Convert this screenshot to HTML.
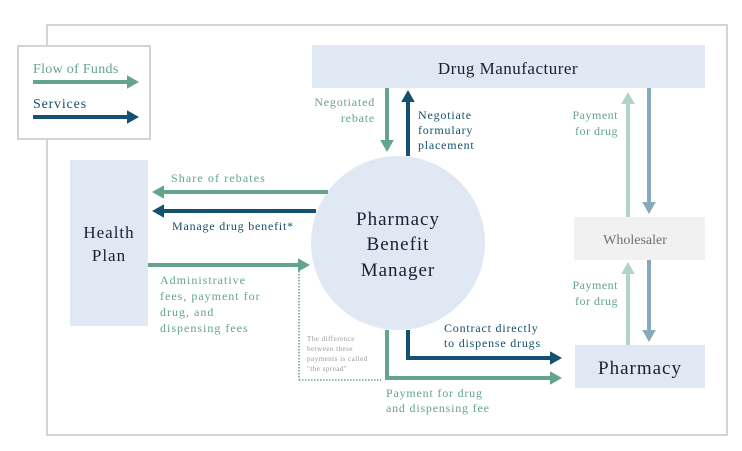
<!DOCTYPE html>
<html><head><meta charset="utf-8"><style>
body{margin:0;background:#fff;}
svg{display:block;font-family:"Liberation Serif",serif;}
</style></head><body>
<svg width="742" height="451" viewBox="0 0 742 451">
<defs>
<marker id="g" markerWidth="3" markerHeight="3.4" refX="1" refY="1.7" orient="auto" markerUnits="strokeWidth"><path d="M0,0 L3,1.7 L0,3.4 z" fill="#64a48c"/></marker>
<marker id="b" markerWidth="3" markerHeight="3.4" refX="1" refY="1.7" orient="auto" markerUnits="strokeWidth"><path d="M0,0 L3,1.7 L0,3.4 z" fill="#14506f"/></marker>
<marker id="lg" markerWidth="3" markerHeight="3.4" refX="1" refY="1.7" orient="auto" markerUnits="strokeWidth"><path d="M0,0 L3,1.7 L0,3.4 z" fill="#b0d4c6"/></marker>
<marker id="gb" markerWidth="3" markerHeight="3.4" refX="1" refY="1.7" orient="auto" markerUnits="strokeWidth"><path d="M0,0 L3,1.7 L0,3.4 z" fill="#88a8bc"/></marker>
</defs>
<rect x="47" y="25" width="680" height="410" fill="none" stroke="#d4d4d4" stroke-width="2"/>
<rect x="18" y="46" width="132" height="93" fill="#fff" stroke="#d4d4d4" stroke-width="2"/>
<text x="33" y="73" font-size="14" fill="#64a48c" letter-spacing="0.3">Flow of Funds</text>
<line x1="33" y1="82" x2="131" y2="82" stroke="#64a48c" stroke-width="4" marker-end="url(#g)"/>
<text x="33" y="108" font-size="14" fill="#14506f" letter-spacing="0.8">Services</text>
<line x1="33" y1="117" x2="131" y2="117" stroke="#14506f" stroke-width="4" marker-end="url(#b)"/>

<rect x="312" y="45" width="393" height="43" fill="#dfe8f3"/>
<text x="508" y="74" font-size="17" fill="#1a2030" text-anchor="middle" letter-spacing="0.5">Drug Manufacturer</text>
<rect x="70" y="160" width="78" height="166" fill="#dfe8f3"/>
<text x="109" y="238" font-size="17" fill="#1a2030" text-anchor="middle" letter-spacing="1">Health</text>
<text x="109" y="261" font-size="17" fill="#1a2030" text-anchor="middle" letter-spacing="1">Plan</text>
<rect x="574" y="217" width="131" height="43" fill="#f1f1f1"/>
<text x="635" y="244" font-size="14" fill="#707070" text-anchor="middle">Wholesaler</text>
<rect x="575" y="345" width="130" height="43" fill="#dfe8f3"/>
<text x="640" y="374" font-size="19" fill="#1a2030" text-anchor="middle" letter-spacing="1">Pharmacy</text>

<line x1="387" y1="88" x2="387" y2="144" stroke="#64a48c" stroke-width="4" marker-end="url(#g)"/>
<line x1="408" y1="156" x2="408" y2="98" stroke="#14506f" stroke-width="4" marker-end="url(#b)"/>
<text x="375" y="106" font-size="12" fill="#64a48c" text-anchor="end" letter-spacing="0.8">Negotiated</text>
<text x="375" y="122" font-size="12" fill="#64a48c" text-anchor="end" letter-spacing="0.8">rebate</text>
<text x="418" y="119" font-size="12" fill="#14506f" letter-spacing="0.8">Negotiate</text>
<text x="418" y="134" font-size="12" fill="#14506f" letter-spacing="0.8">formulary</text>
<text x="418" y="149" font-size="12" fill="#14506f" letter-spacing="0.8">placement</text>

<line x1="628" y1="217" x2="628" y2="100" stroke="#b0d4c6" stroke-width="4" marker-end="url(#lg)"/>
<line x1="649" y1="88" x2="649" y2="206" stroke="#88a8bc" stroke-width="4" marker-end="url(#gb)"/>
<text x="618" y="119" font-size="12" fill="#64a48c" text-anchor="end" letter-spacing="0.5">Payment</text>
<text x="618" y="135" font-size="12" fill="#64a48c" text-anchor="end" letter-spacing="0.5">for drug</text>
<line x1="628" y1="345" x2="628" y2="270" stroke="#b0d4c6" stroke-width="4" marker-end="url(#lg)"/>
<line x1="649" y1="260" x2="649" y2="334" stroke="#88a8bc" stroke-width="4" marker-end="url(#gb)"/>
<text x="618" y="289" font-size="12" fill="#64a48c" text-anchor="end" letter-spacing="0.5">Payment</text>
<text x="618" y="305" font-size="12" fill="#64a48c" text-anchor="end" letter-spacing="0.5">for drug</text>

<line x1="299" y1="268" x2="299" y2="380" stroke="#64a48c" stroke-width="1.5" stroke-dasharray="1.5,1.5"/>
<line x1="299" y1="380" x2="381" y2="380" stroke="#64a48c" stroke-width="1.5" stroke-dasharray="1.5,1.5"/>
<text font-size="7" fill="#999" letter-spacing="0.5"><tspan x="307" y="341">The difference</tspan><tspan x="307" y="351">between these</tspan><tspan x="307" y="361">payments is called</tspan><tspan x="307" y="371">"the spread"</tspan></text>

<circle cx="398" cy="243" r="87" fill="#dfe8f3"/>
<text x="398" y="225" font-size="19" fill="#1a2030" text-anchor="middle" letter-spacing="1">Pharmacy</text>
<text x="398" y="250" font-size="19" fill="#1a2030" text-anchor="middle" letter-spacing="1">Benefit</text>
<text x="398" y="276" font-size="19" fill="#1a2030" text-anchor="middle" letter-spacing="1">Manager</text>

<line x1="328" y1="192" x2="160" y2="192" stroke="#64a48c" stroke-width="4" marker-end="url(#g)"/>
<text x="171" y="182" font-size="12" fill="#64a48c" letter-spacing="1.1">Share of rebates</text>
<line x1="316" y1="211" x2="160" y2="211" stroke="#14506f" stroke-width="4" marker-end="url(#b)"/>
<text x="172" y="230" font-size="12" fill="#14506f" letter-spacing="0.8">Manage drug benefit*</text>
<line x1="148" y1="265" x2="302" y2="265" stroke="#64a48c" stroke-width="4" marker-end="url(#g)"/>
<text font-size="12" fill="#64a48c" letter-spacing="1"><tspan x="160" y="284">Administrative</tspan><tspan x="160" y="300">fees, payment for</tspan><tspan x="160" y="316">drug, and</tspan><tspan x="160" y="332">dispensing fees</tspan></text>

<polyline points="387,330 387,378 554,378" fill="none" stroke="#64a48c" stroke-width="4" marker-end="url(#g)"/>
<polyline points="408,330 408,358 554,358" fill="none" stroke="#14506f" stroke-width="4" marker-end="url(#b)"/>
<text x="444" y="332" font-size="12" fill="#14506f" letter-spacing="0.8">Contract directly</text>
<text x="444" y="347" font-size="12" fill="#14506f" letter-spacing="0.8">to dispense drugs</text>
<text x="386" y="397" font-size="12" fill="#64a48c" letter-spacing="0.8">Payment for drug</text>
<text x="386" y="412" font-size="12" fill="#64a48c" letter-spacing="0.8">and dispensing fee</text>
</svg>
</body></html>
